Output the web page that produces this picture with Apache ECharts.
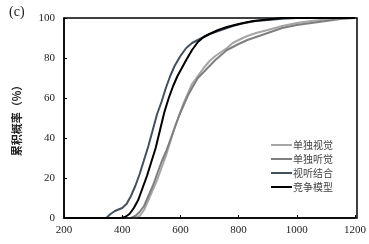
<!DOCTYPE html>
<html>
<head>
<meta charset="utf-8">
<script src="https://cdn.jsdelivr.net/npm/echarts@6/dist/echarts.min.js"></script>
<style>
  html, body { margin: 0; padding: 0; background: #fff; }
  #main { width: 369px; height: 244px; }
</style>
</head>
<body>
<div id="main"></div>
<script>
	// 累积概率曲线 [反应时 ms, %]
	var seriesNames = ['单独视觉', '单独听觉', '视听结合', '竞争模型'];
	var visual = [[200,0],[445,0],[460,1],[475,4],[490,9],[505,14],[520,19],[535,25],[550,31],[565,38],[580,45],[595,51],[610,57],[625,62],[640,67],[660,71],[680,75],[700,78.5],[720,81],[740,83],[760,85],[780,87.5],[800,89],[830,91],[860,92.5],[900,94],[950,96],[1000,97.5],[1050,98.5],[1100,99.3],[1150,100],[1200,100]];
	var audio = [[200,0],[430,0],[445,1],[460,3],[475,6],[490,11],[505,16],[520,22],[535,28],[550,33],[565,39],[580,45],[595,51],[610,56],[625,61],[640,65],[660,70],[680,73],[700,76],[720,79],[740,81.5],[760,84],[780,85.5],[800,87],[830,89],[860,90.5],[900,92.5],[950,95],[1000,96.5],[1050,97.5],[1100,98.5],[1150,99.5],[1200,100]];
	var combined = [[200,0],[345,0],[360,2],[375,3.5],[400,5],[415,7],[430,11],[445,16],[460,22],[475,29],[490,36],[505,44],[520,52],[535,58],[550,65],[565,71],[580,76],[600,81],[620,85],[640,87.5],[660,89],[680,90.5],[700,92],[740,94],[780,96],[820,97.5],[860,98.5],[900,99],[950,99.6],[1000,100],[1200,100]];
	var race = [[200,0],[395,0],[410,0.5],[425,2],[440,5],[455,9],[470,15],[485,21],[500,28],[515,35],[530,44],[545,53],[560,60],[575,66],[590,71],[605,75],[620,79],[640,84],[660,88],[680,90.5],[700,92],[730,94],[760,95.5],[800,97],[850,98.5],[900,99.3],[950,100],[1200,100]];
	var colors = ['#a6a6a6', '#7f7f7f', '#44505c', '#000000'];

	var serif = '"Liberation Serif", "Noto Sans CJK SC", serif';
	var cjk = '"Noto Sans CJK SC", sans-serif';

	var myEchart = echarts.init(document.getElementById('main'), null, {renderer: 'canvas'});
	var allData = [visual, audio, combined, race];
	var series = [];
	for (var i = 0; i < allData.length; i++) {
		series.push({
			name: seriesNames[i],
			type: 'line',
			data: allData[i],
			symbol: 'none',
			showSymbol: false,
			smooth: false,
			z: 10 + i,
			lineStyle: { color: colors[i], width: 2 },
			itemStyle: { color: colors[i] }
		});
	}
	var option = {
		animation: false,
		title: {
			text: '(c)',
			left: 4, top: 0,
			textStyle: { fontFamily: serif, fontSize: 14, fontWeight: 'normal', color: '#222' }
		},
		legend: {
			orient: 'vertical',
			left: 266, top: 135,
			icon: 'rect',
			itemWidth: 21, itemHeight: 2, itemGap: 4,
			data: seriesNames,
			textStyle: { fontFamily: cjk, fontSize: 10, color: '#444', padding: [0, 0, 0, -4] }
		},
		grid: { left: 64, right: 12, top: 18, bottom: 26 },
		xAxis: {
			type: 'value', min: 200, max: 1200, interval: 200,
			axisLine: { show: true, lineStyle: { color: '#000', width: 1.5 } },
			axisTick: { inside: true, length: 3, lineStyle: { color: '#000' } },
			axisLabel: { fontFamily: serif, fontSize: 11, color: '#222', margin: 7,
				formatter: function (v) { return String(v); } },
			splitLine: { show: false }
		},
		yAxis: {
			type: 'value', min: 0, max: 100, interval: 20,
			name: '累积概率（%）',
			nameLocation: 'middle', nameGap: 42,
			nameTextStyle: { fontFamily: cjk, fontSize: 11, fontWeight: 'bold', color: '#222' },
			axisLine: { show: true, lineStyle: { color: '#000', width: 1.5 } },
			axisTick: { inside: true, length: 3, lineStyle: { color: '#000' } },
			axisLabel: { fontFamily: serif, fontSize: 11, color: '#222', margin: 9 },
			splitLine: { show: false }
		},
		graphic: [{
			type: 'rect',
			shape: { x: 64, y: 18, width: 293, height: 200 },
			style: { fill: 'none', stroke: '#000', lineWidth: 1.5 },
			silent: true, z: 100
		}],
		series: series
	};
	myEchart.setOption(option);
</script>
</body>
</html>
